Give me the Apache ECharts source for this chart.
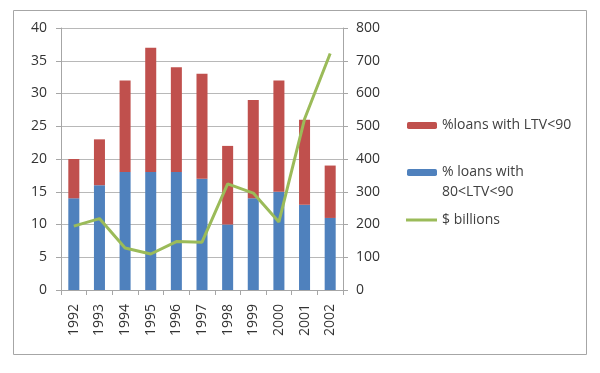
<!DOCTYPE html>
<html><head><meta charset="utf-8">
<script src="https://cdn.jsdelivr.net/npm/echarts@6/dist/echarts.min.js"></script>
<style>html,body{margin:0;padding:0;background:#fff}#c{width:600px;height:373px}</style>
</head><body><div id="c"></div>
<script>
var years = ['1992','1993','1994','1995','1996','1997','1998','1999','2000','2001','2002'];
var loans80to90 = [14,16,18,18,18,17,10,14,15,13,11];
var loansLTV90 = [6,7,14,19,16,16,12,15,17,13,8];
var billions = [195,218,128,110,148,146,324,296,208,522,722];
var leftTicks = [0,40,5];
var rightTicks = [0,800,100];

var FONT = '"Open Sans", "Liberation Sans", sans-serif';
var chart = echarts.init(document.getElementById('c'));
chart.setOption({
  animation:false,
  textStyle:{fontFamily:FONT},
  graphic:[
    {type:'rect', shape:{x:13.5,y:10.5,width:573,height:344}, style:{fill:'none',stroke:'#a6a6a6',lineWidth:1}, z:-1},
    {type:'text', left:442, top:184, style:{text:'80<LTV<90', fontSize:14, lineHeight:16, fill:'#404040', fontFamily:FONT}}
  ],
  grid:{left:61, right:257, top:28, bottom:83},
  legend:[
    {data:['%loans with LTV<90'], left:407, top:117.5, padding:0, itemWidth:30, itemHeight:7, itemGap:0,
     textStyle:{fontSize:14,lineHeight:16,color:'#404040'}},
    {data:['% loans with 80<LTV<90'], left:407, top:164.5, padding:0, itemWidth:30, itemHeight:7,
     formatter:function(){return '% loans with';}, textStyle:{fontSize:14,lineHeight:16,color:'#404040'}},
    {data:[{name:'$ billions', icon:'rect'}], left:406, top:212, padding:0, itemWidth:31, itemHeight:3,
     textStyle:{fontSize:14,lineHeight:16,color:'#404040'}}
  ],
  xAxis:{type:'category', data:years,
    axisLine:{lineStyle:{color:'#a6a6a6'}},
    axisTick:{show:true, length:5, lineStyle:{color:'#a6a6a6'}},
    axisLabel:{rotate:90, fontSize:14, color:'#333', margin:14}},
  yAxis:[
    {type:'value', min:leftTicks[0], max:leftTicks[1], interval:leftTicks[2],
     axisLine:{show:true, lineStyle:{color:'#a6a6a6'}},
     axisTick:{show:true, length:5, lineStyle:{color:'#a6a6a6'}},
     axisLabel:{fontSize:14, color:'#333', margin:14},
     splitLine:{lineStyle:{color:'#b8b8b8'}}},
    {type:'value', min:rightTicks[0], max:rightTicks[1], interval:rightTicks[2],
     axisLine:{show:true, lineStyle:{color:'#a6a6a6'}},
     axisTick:{show:true, length:5, lineStyle:{color:'#a6a6a6'}},
     axisLabel:{fontSize:14, color:'#333', margin:13},
     splitLine:{show:false}}
  ],
  series:[
    {name:'% loans with 80<LTV<90', type:'bar', stack:'s', data:loans80to90, barWidth:'43%',
     itemStyle:{color:'#4F81BD'}},
    {name:'%loans with LTV<90', type:'bar', stack:'s', data:loansLTV90, barWidth:'43%',
     itemStyle:{color:'#C0504D'}},
    {name:'$ billions', type:'line', yAxisIndex:1, data:billions, symbol:'none',
     itemStyle:{color:'#9BBB59'}, lineStyle:{color:'#9BBB59', width:3}}
  ]
});
</script></body></html>
